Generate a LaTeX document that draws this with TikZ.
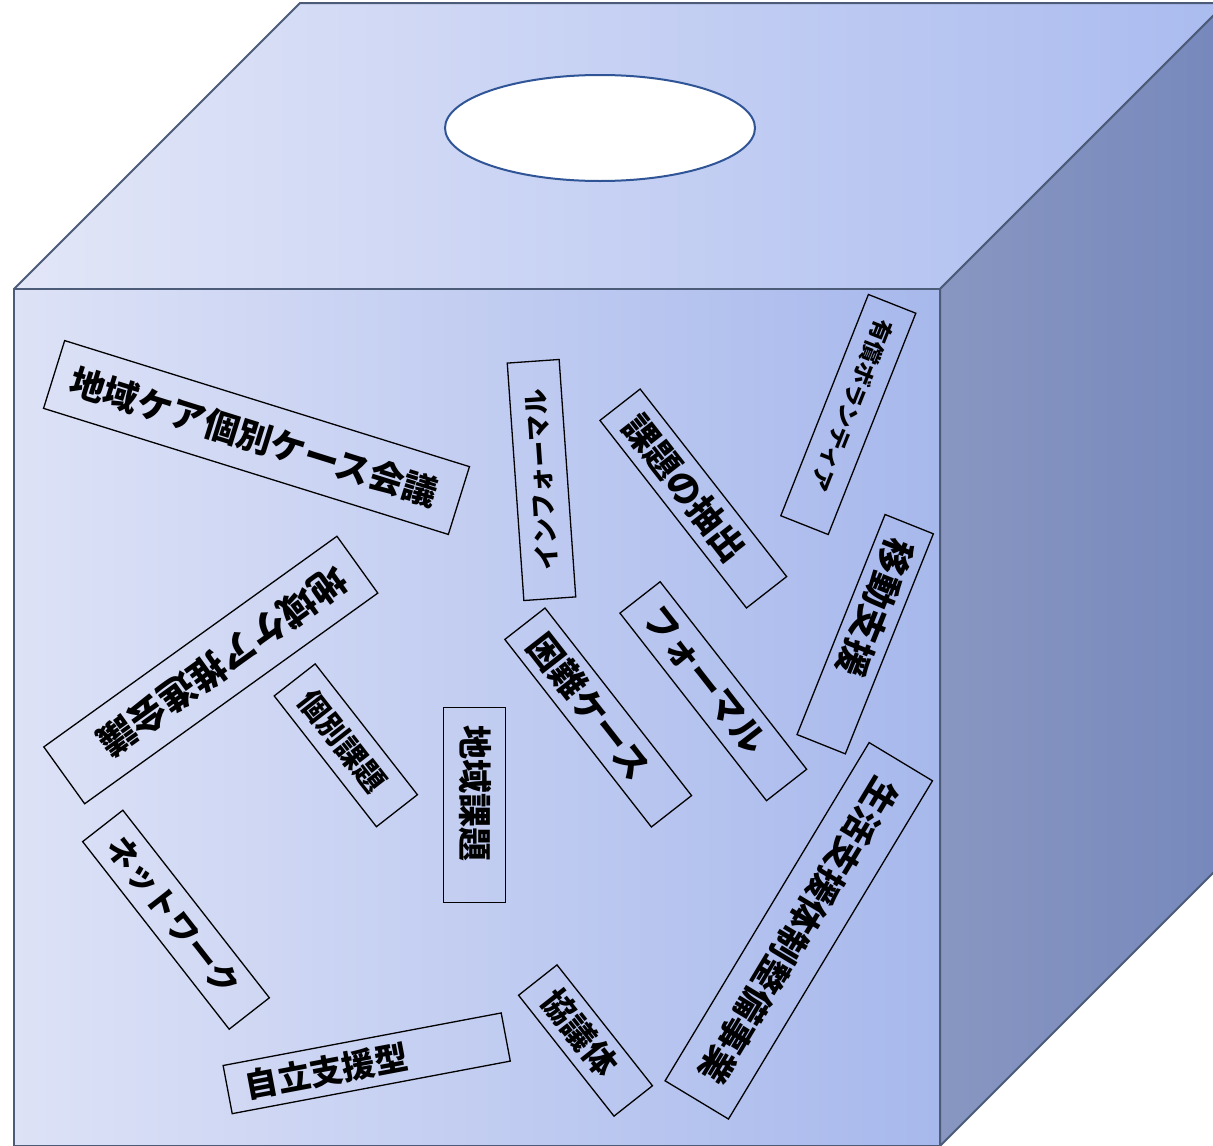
\documentclass[tikz,border=0pt]{standalone}
\usepackage{fontspec}
\newfontfamily\jp{Noto Sans CJK JP}[BoldFont={Noto Sans CJK JP Black}]
\newcommand{\cardfont}[1]{\jp\bfseries\fontsize{#1}{#1}\selectfont}
\definecolor{topL}{HTML}{E2E6F7}
\definecolor{topR}{HTML}{AABBEF}
\definecolor{frontL}{HTML}{DDE2F6}
\definecolor{frontR}{HTML}{A7B8EC}
\definecolor{sideL}{HTML}{8896C1}
\definecolor{sideR}{HTML}{7688BC}
\definecolor{edgeline}{HTML}{4C5B78}
\definecolor{slotline}{HTML}{2F5597}
\begin{document}
\begin{tikzpicture}[x=1pt, y=-1pt,
        face/.style={draw=edgeline, line width=2pt, line join=round},
        card/.style={draw, line width=1.3pt, inner xsep=18pt, inner ysep=0pt, align=left}
    ]
        \useasboundingbox (0,0) rectangle (1213,1146);
        \clip (0,0) rectangle (1213,1146);

        % Box faces
        \shade[face, left color=topL, right color=topR] (14,289) -- (300,3) -- (1226,3) -- (940,289) -- cycle;
        \shade[face, left color=sideL, right color=sideR] (940,289) -- (1226,3) -- (1226,860) -- (940,1146) -- cycle;
        \shade[face, left color=frontL, right color=frontR] (14,289) rectangle (940,1146);

        % Slot on the lid
        \draw[slotline, line width=2pt, fill=white] (600,128) ellipse [x radius=155, y radius=53];

        % Cards inside the box
        \node[card, rotate=-17.3, minimum width=424pt, text width=388pt, minimum height=71pt, font=\cardfont{35}] (careMtg) at (256.5,437.5) {地域ケア個別ケース会議};
        \node[card, rotate=-144.3, minimum width=361pt, text width=325pt, minimum height=70pt, font=\cardfont{37}] (promoMtg) at (210.8,670) {地域ケア推進会議};
        \node[card, rotate=94, minimum width=238pt, text width=202pt, minimum height=52pt, align=center, font=\cardfont{26}] (informal) at (541.5,480) {インフォーマル};
        \node[card, rotate=-52, minimum width=238pt, text width=202pt, minimum height=51pt, font=\cardfont{35}] (extract) at (693.3,498.5) {課題の抽出};
        \node[card, rotate=-111.6, minimum width=238pt, text width=202pt, minimum height=51pt, font=\cardfont{23}] (volunteer) at (848.3,414.5) {有償ボランティア};
        \node[card, rotate=-52, minimum width=166pt, text width=130pt, minimum height=52pt, font=\cardfont{30}] (indivIssue) at (345.8,745.3) {個別課題};
        \node[card, rotate=-90, minimum width=195pt, text width=159pt, minimum height=62pt, font=\cardfont{34}] (areaIssue) at (474.8,805.2) {地域課題};
        \node[card, rotate=-52, minimum width=238pt, text width=202pt, minimum height=51pt, font=\cardfont{35}] (hardCase) at (598.2,717.5) {困難ケース};
        \node[card, rotate=-52, minimum width=238pt, text width=202pt, minimum height=51pt, font=\cardfont{35}] (formal) at (713.3,691.2) {フォーマル};
        \node[card, rotate=-111.8, minimum width=237pt, text width=201pt, minimum height=52pt, font=\cardfont{36}] (mobility) at (865.2,634.2) {移動支援};
        \node[card, rotate=-121.1, minimum width=395pt, text width=359pt, minimum height=74pt, align=center, font=\cardfont{35}] (lifeSupport) at (798.8,930.8) {生活支援体制整備事業};
        \node[card, rotate=-52, minimum width=238pt, text width=202pt, minimum height=51pt, font=\cardfont{32}] (network) at (176,919.7) {ネットワーク};
        \node[card, rotate=10.7, minimum width=283pt, text width=247pt, minimum height=49pt, font=\cardfont{33}] (selfReliance) at (366.7,1063.3) {自立支援型};
        \node[card, rotate=-51.7, minimum width=154pt, text width=118pt, minimum height=49pt, font=\cardfont{33}] (council) at (585.5,1040.5) {協議体};

    \end{tikzpicture}
\end{document}
